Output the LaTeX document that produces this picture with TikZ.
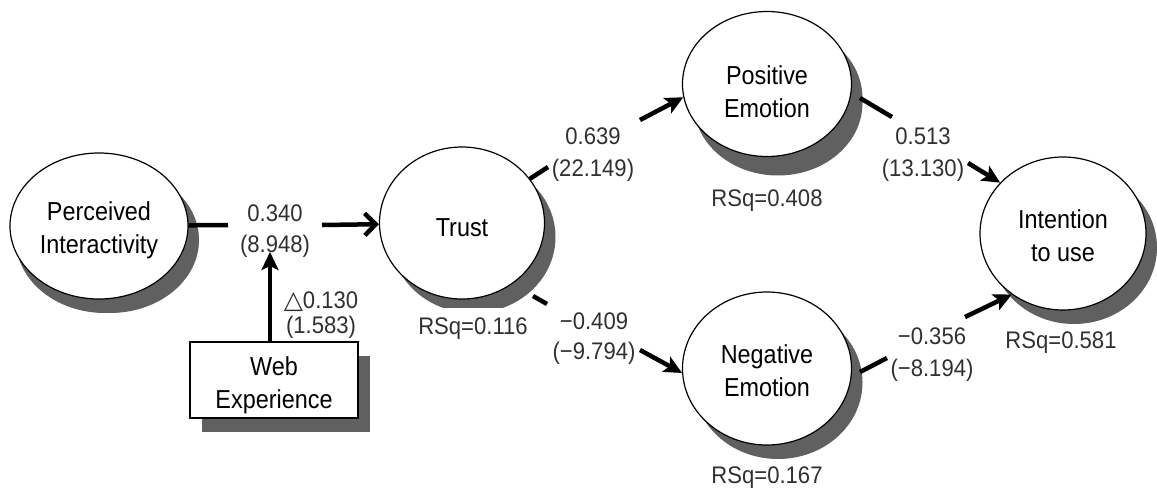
\documentclass[tikz,border=0pt]{standalone}
\usepackage{fontspec}
\setmainfont{Liberation Sans}[FakeStretch=0.9]
\newfontfamily\lblfont{Liberation Sans}[FakeStretch=0.92]
\newfontfamily\symfont{DejaVu Sans}
\usetikzlibrary{shapes.geometric,shadows,arrows.meta}
\definecolor{shgray}{HTML}{606060}
\definecolor{lblgray}{HTML}{303030}
\newcommand{\myrule}[1]{\rule{0pt}{#1}}
\tikzset{
  construct/.style={ellipse, draw=black, line width=1.2pt, fill=white, inner sep=0pt, align=center,
    font=\fontsize{26}{33}\selectfont,
    drop shadow={shadow xshift=11pt, shadow yshift=-14pt, fill=shgray, opacity=1}},
  modbox/.style={rectangle, draw=black, line width=1.2pt, fill=white, inner sep=0pt, align=center,
    minimum width=168pt, minimum height=76pt, font=\fontsize{26}{33}\selectfont,
    drop shadow={shadow xshift=12pt, shadow yshift=-14pt, fill=shgray, opacity=1}},
  conn/.style={line width=4.5pt},
  arrconn/.style={conn, -{Stealth[length=18pt,width=17pt,inset=4pt]}},
  barbconn/.style={conn, -{Straight Barb[length=11pt,width=22pt]}},
  lbl/.style={align=center, text=lblgray, inner sep=0pt, font=\lblfont\fontsize{24}{31}\selectfont},
  rsq/.style={text=lblgray, inner sep=0pt, font=\lblfont\fontsize{24}{30}\selectfont},
}
\begin{document}
\begin{tikzpicture}[x=1pt,y=-1pt]
\useasboundingbox (0,0) rectangle (1157,488);
% constructs
\node[construct, minimum width=178pt, minimum height=146pt,
      drop shadow={shadow xshift=6pt, shadow yshift=-14pt, fill=shgray, opacity=1}] (pi) at (99,226) {\myrule{27.5pt}Perceived\\Interactivity};
\node[construct, minimum width=165pt, minimum height=152pt] (trust) at (462,223) {\myrule{28pt}Trust};
\node[construct, minimum width=169pt, minimum height=145pt,
      drop shadow={shadow xshift=11pt, shadow yshift=-19pt, fill=shgray, opacity=1}] (pe) at (767,84) {\myrule{34pt}Positive\\Emotion};
\node[construct, minimum width=169pt, minimum height=153pt] (ne) at (767,368.5) {\myrule{23pt}Negative\\Emotion};
\node[construct, minimum width=166pt, minimum height=153pt] (iu) at (1063,233.5) {\myrule{24pt}Intention\\to use};
\node[modbox] (we) at (274,380) {\myrule{29.5pt}Web\\Experience};
% connectors
\coordinate (a1) at (228,225);
\coordinate (a2) at (322,225);
\draw[conn] (pi) -- (a1);
\draw[barbconn] (a2) -- (trust);
\coordinate (w1) at (270,252);
\draw[arrconn] (w1 |- we.north) -- (w1);
\coordinate (b1) at (548,167);
\coordinate (b2) at (640,120);
\draw[conn] (trust) -- (b1);
\draw[arrconn] (b2) -- (pe.189);
\coordinate (c0) at (533,296);
\coordinate (c1) at (547,304);
\coordinate (c2) at (640,350);
\draw[conn] (c0) -- (c1);
\draw[arrconn] (c2) -- (ne.183);
\coordinate (d0) at (860,98);
\coordinate (d1) at (892,117);
\coordinate (d2) at (968,163);
\draw[conn] (d0) -- (d1);
\draw[arrconn] (d2) -- (iu.141);
\coordinate (e0) at (860,372);
\coordinate (e1) at (887,358);
\coordinate (e2) at (965,317);
\draw[conn] (e0) -- (e1);
\draw[arrconn] (e2) -- (iu.230);
% labels
\node[lbl] (l1) at (275,231.5) {0.340\\(8.948)};
\node[lbl, font=\lblfont\fontsize{24}{25}\selectfont] (l2) at (321,315) {{\symfont\fontsize{25}{25}\selectfont △}0.130\\(1.583)};
\node[lbl, font=\lblfont\fontsize{24}{32}\selectfont] (l3) at (593,155) {0.639\\(22.149)};
\node[lbl, font=\lblfont\fontsize{24}{30}\selectfont] (l4) at (594,339) {−0.409\\(−9.794)};
\node[lbl, font=\lblfont\fontsize{24}{32}\selectfont] (l5) at (923,154.5) {0.513\\(13.130)};
\node[lbl, font=\lblfont\fontsize{24}{32}\selectfont] (l6) at (932,355) {−0.356\\(−8.194)};
\node[rsq, fill=white, inner xsep=14pt, inner ysep=10pt] (r1) at (473,329) {RSq=0.116};
\node[rsq] (r2) at (767,201) {RSq=0.408};
\node[rsq] (r3) at (767,477.5) {RSq=0.167};
\node[rsq] (r4) at (1061,342.5) {RSq=0.581};
\end{tikzpicture}
\end{document}
